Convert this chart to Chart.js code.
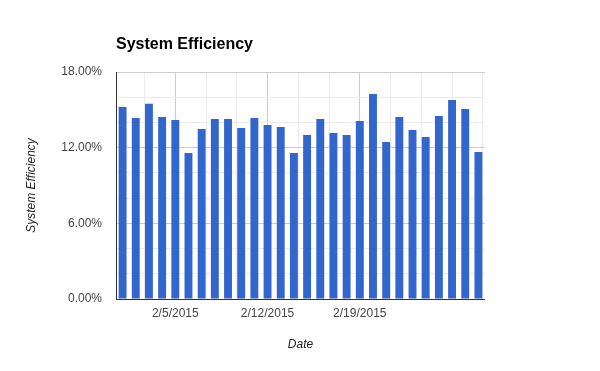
<!DOCTYPE html>
<html>
<head>
<meta charset="utf-8">
<script src="https://cdn.jsdelivr.net/npm/chart.js@4.4.1/dist/chart.umd.min.js"></script>
<style>
  html, body { margin: 0; padding: 0; background: #fff; }
  #wrap { width: 600px; height: 371px; }
</style>
</head>
<body>
<div id="wrap"><canvas id="c" width="600" height="371"></canvas></div>
<script>
const dates = [
  '2/1/2015','2/2/2015','2/3/2015','2/4/2015','2/5/2015','2/6/2015','2/7/2015',
  '2/8/2015','2/9/2015','2/10/2015','2/11/2015','2/12/2015','2/13/2015','2/14/2015',
  '2/15/2015','2/16/2015','2/17/2015','2/18/2015','2/19/2015','2/20/2015','2/21/2015',
  '2/22/2015','2/23/2015','2/24/2015','2/25/2015','2/26/2015','2/27/2015','2/28/2015'
];
const efficiency = [
  15.23, 14.35, 15.49, 14.43, 14.19, 11.58, 13.48,
  14.27, 14.27, 13.56, 14.35, 13.80, 13.64, 11.58,
  13.00, 14.27, 13.16, 13.00, 14.11, 16.26, 12.45,
  14.43, 13.40, 12.85, 14.51, 15.78, 15.07, 11.66
];
const yTicks = [0, 2, 4, 6, 8, 10, 12, 14, 16, 18];
const yMajor = [0, 6, 12, 18];
const xLabelDates = ['2/5/2015', '2/12/2015', '2/19/2015'];
const xGridDays = [1.667, 4, 6.333, 8.667, 11, 13.333, 15.667, 18, 20.333, 22.667, 25, 27.333];

const labelIndex = xLabelDates.map(d => dates.indexOf(d));
const isMajorX = v => labelIndex.some(i => Math.abs(i - v) < 0.01);
const isMajorY = v => yMajor.some(m => Math.abs(m - v) < 0.01);

new Chart(document.getElementById('c'), {
  type: 'bar',
  data: {
    labels: dates,
    datasets: [{
      label: 'System Efficiency',
      data: efficiency,
      backgroundColor: '#3366CC',
      borderWidth: 0,
      categoryPercentage: 1,
      barPercentage: 0.6
    }]
  },
  options: {
    responsive: false,
    animation: false,
    layout: { padding: { left: 0, right: 115, top: 0, bottom: 0 } },
    plugins: {
      legend: { display: false },
      tooltip: { enabled: false },
      title: {
        display: true,
        text: 'System Efficiency',
        align: 'start',
        fullSize: false,
        color: '#000',
        font: { family: 'Liberation Sans, Arial, sans-serif', size: 16, weight: 'bold' },
        padding: { top: 35, bottom: 17.8 }
      }
    },
    scales: {
      x: {
        display: false,
        offset: true
      },
      x2: {
        type: 'linear',
        position: 'bottom',
        min: -0.5,
        max: 27.5,
        offset: false,
        afterBuildTicks: s => { s.ticks = xGridDays.map(v => ({ value: v })); },
        afterFit: s => { s.height = 72; },
        border: { display: false },
        grid: {
          offset: false,
          drawTicks: false,
          color: ctx => (ctx.tick && isMajorX(ctx.tick.value)) ? '#cccccc' : '#ebebeb',
          lineWidth: 1
        },
        ticks: {
          autoSkip: false,
          maxRotation: 0,
          padding: 7,
          color: '#444',
          font: { family: 'Liberation Sans, Arial, sans-serif', size: 12 },
          callback: v => {
            const i = labelIndex.find(k => Math.abs(k - v) < 0.01);
            return i === undefined ? '' : dates[i];
          }
        },
        title: {
          display: true,
          text: 'Date',
          color: '#222',
          font: { family: 'Liberation Sans, Arial, sans-serif', size: 12, style: 'italic' },
          padding: { top: 0, bottom: 19 }
        }
      },
      y: {
        min: 0,
        max: 18,
        afterBuildTicks: s => { s.ticks = yTicks.map(v => ({ value: v })); },
        afterFit: s => { s.width = 116; },
        border: { display: true, color: '#333', width: 1 },
        grid: {
          drawTicks: false,
          color: ctx => {
            if (!ctx.tick) return '#ebebeb';
            if (ctx.tick.value === 0) return '#333';
            return isMajorY(ctx.tick.value) ? '#cccccc' : '#ebebeb';
          },
          lineWidth: 1
        },
        ticks: {
          padding: 14,
          color: '#444',
          font: { family: 'Liberation Sans, Arial, sans-serif', size: 12 },
          callback: v => isMajorY(v) ? v.toFixed(2) + '%' : ''
        },
        title: {
          display: true,
          text: 'System Efficiency',
          color: '#222',
          font: { family: 'Liberation Sans, Arial, sans-serif', size: 12, style: 'italic' },
          padding: { top: 24, bottom: 0 }
        }
      }
    }
  }
});
</script>
</body>
</html>
